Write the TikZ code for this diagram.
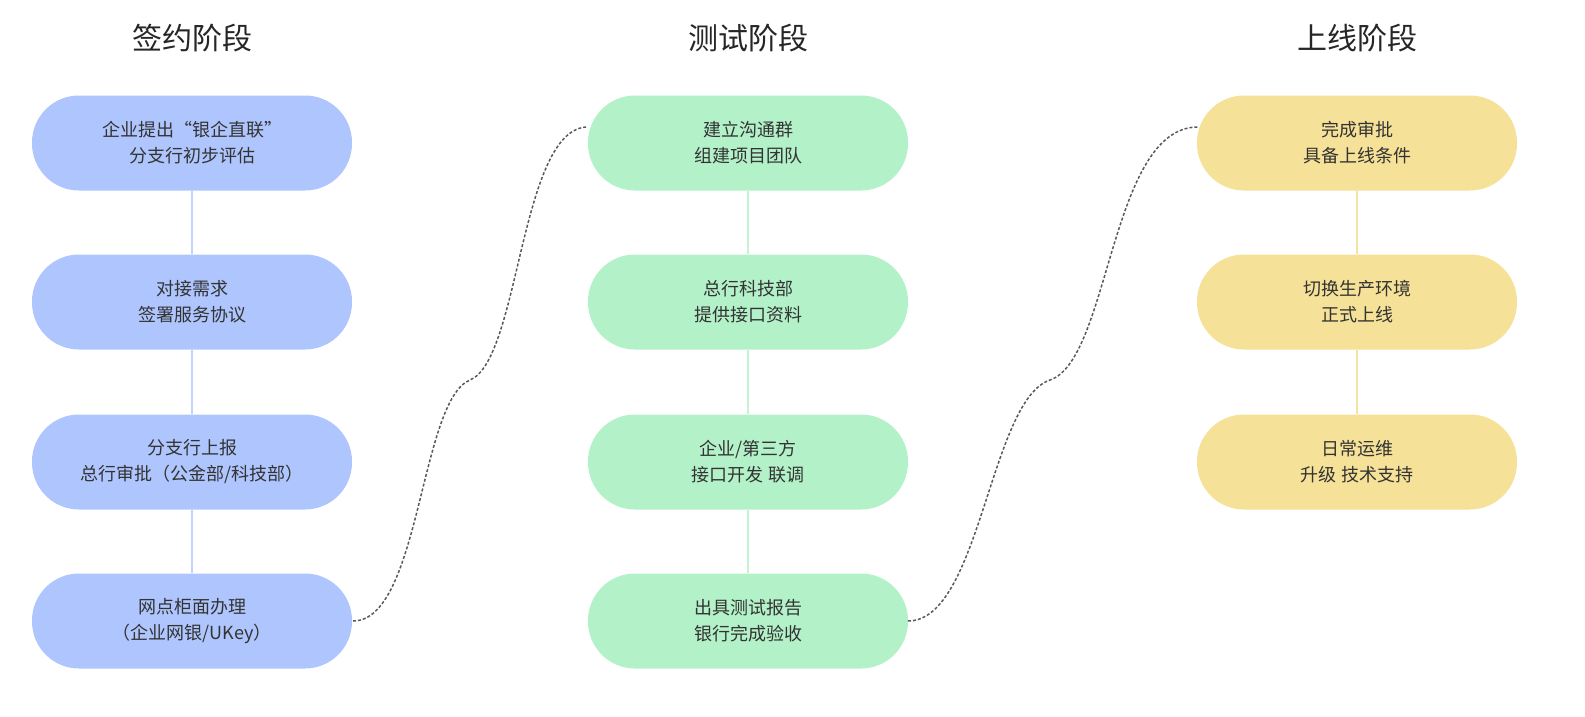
\documentclass[tikz,border=0pt]{standalone}
\usepackage{fontspec}
\setmainfont{Noto Sans CJK SC}
\begin{document}
\begin{tikzpicture}[x=1pt,y=-1pt,
 box/.style={rounded corners=47pt,minimum width=320pt,minimum height=95pt,align=center,font=\fontsize{18}{26}\selectfont,text=black!80,inner sep=0pt},
 bbox/.style={box,fill=blue1}, gbox/.style={box,fill=green1}, ybox/.style={box,fill=yellow1},
 ttl/.style={font=\fontsize{30}{34}\selectfont,text=black!85},
 linkline/.style={densely dashed,line width=1.5pt,draw=black!65}]
\definecolor{blue1}{HTML}{AFC5FD}\definecolor{green1}{HTML}{B3F1C9}\definecolor{yellow1}{HTML}{F5E197}
\definecolor{blue2}{HTML}{C2D3FD}\definecolor{green2}{HTML}{C4F4D4}\definecolor{yellow2}{HTML}{F5E3A0}
\useasboundingbox (0,0) rectangle (1585,717);
\node[ttl] (t1) at (192,38) {签约阶段};
\node[ttl] (t2) at (748,38) {测试阶段};
\node[ttl] (t3) at (1357,38) {上线阶段};
\node[bbox] (a1) at (192,143) {企业提出“银企直联”\\分支行初步评估};
\node[bbox] (a2) at (192,302) {对接需求\\签署服务协议};
\node[bbox] (a3) at (192,462) {分支行上报\\总行审批（公金部/科技部）};
\node[bbox] (a4) at (192,621) {网点柜面办理\\（企业网银/UKey）};
\node[gbox] (b1) at (748,143) {建立沟通群\\组建项目团队};
\node[gbox] (b2) at (748,302) {总行科技部\\提供接口资料};
\node[gbox] (b3) at (748,462) {企业/第三方\\接口开发 联调};
\node[gbox] (b4) at (748,621) {出具测试报告\\银行完成验收};
\node[ybox] (c1) at (1357,143) {完成审批\\具备上线条件};
\node[ybox] (c2) at (1357,302) {切换生产环境\\正式上线};
\node[ybox] (c3) at (1357,462) {日常运维\\升级 技术支持};
\draw[blue2,line width=2pt] (a1)--(a2) (a2)--(a3) (a3)--(a4);
\draw[green2,line width=2pt] (b1)--(b2) (b2)--(b3) (b3)--(b4);
\draw[yellow2,line width=2pt] (c1)--(c2) (c2)--(c3);
\coordinate (p1) at (353,621); \coordinate (q1) at (588,127);
\coordinate (p2) at (908,621); \coordinate (q2) at (1198,127);
\draw[linkline] (p1) .. controls (420,621) and (420,400) .. (470,380) .. controls (520,360) and (520,127) .. (q1);
\draw[linkline] (p2) .. controls (980,621) and (990,400) .. (1050,380) .. controls (1110,360) and (1110,127) .. (q2);
\end{tikzpicture}
\end{document}
